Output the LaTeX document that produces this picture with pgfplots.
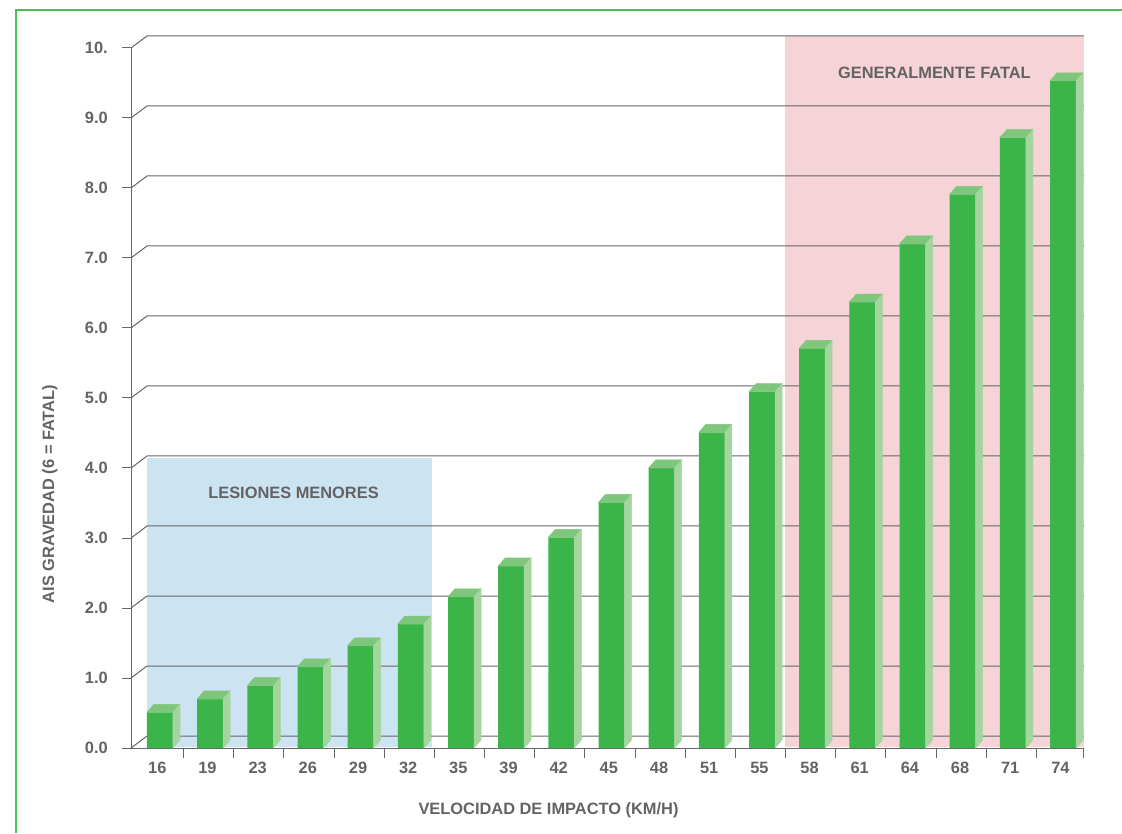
\documentclass[border=0pt]{standalone}
\usepackage{pgfplots}
\pgfplotsset{compat=1.18}
\usepackage{fontspec}
\setmainfont{Liberation Sans}

\definecolor{barfront}{HTML}{3BB44A}
\definecolor{bartop}{HTML}{7EC67B}
\definecolor{barside}{HTML}{A5D59E}
\definecolor{minorzone}{HTML}{CCE3F1}
\definecolor{fatalzone}{HTML}{F5D3D6}
\definecolor{gridgray}{HTML}{666666}
\definecolor{txtgray}{HTML}{636363}
\definecolor{framegreen}{HTML}{45C15A}

% an empty mark: the 3D faces are drawn by the scatter code
\pgfdeclareplotmark{empty}{}
\newcommand\lbl{\fontsize{12.3}{14}\selectfont\bfseries}

\begin{document}
\begin{tikzpicture}
\begin{scope}[x=0.75pt,y=0.75pt]
\useasboundingbox (0,0) rectangle (1122,833);
% outer frame
\draw[framegreen, line width=1.1pt] (1122,823) -- (16,823) -- (16,0);
\end{scope}

\begin{axis}[
  at={(98.25pt,63.75pt)}, anchor=south west,
  x=37.6275pt, y=52.5pt,
  xmin=-0.578, xmax=18.40, ymin=0, ymax=10,
  enlargelimits=false, clip=false,
  axis lines=left,
  axis line style={-, draw=gridgray, line width=0.75pt},
  tick align=outside,
  major tick length=6.75pt,
  tick style={draw=gridgray, line width=0.75pt},
  xtick style={draw=none},
  xtick={0,...,18},
  xticklabels={16,19,23,26,29,32,35,39,42,45,48,51,55,58,61,64,68,71,74},
  ytick={0,...,10},
  yticklabels={0.0,1.0,2.0,3.0,4.0,5.0,6.0,7.0,8.0,9.0,10.},
  tick label style={font=\lbl, text=txtgray},
  xticklabel style={anchor=north, inner sep=0pt, yshift=-3.4pt, xshift=-2pt},
  yticklabel style={anchor=east, inner sep=0pt, xshift=-10.5pt},
]
% highlighted zones on the back wall
\fill[minorzone] (axis cs:-0.259,0.01) rectangle (axis cs:5.422,4.143);
\fill[fatalzone] (axis cs:12.458,0.01) rectangle (axis cs:18.417,10.171);

% back-wall grid lines with their floor-to-wall bevel
\pgfplotsinvokeforeach{0,...,10}{
  \draw[gridgray, line width=0.75pt] (axis cs:-0.578,#1) -- ++(12pt,9pt)
    -- ([shift={(12pt,9pt)}]axis cs:18.098,#1);
}

% category separators under the x axis
\pgfplotsinvokeforeach{0.47,1.47,2.47,3.47,4.47,5.47,6.47,7.47,8.47,9.47,10.47,11.47,12.47,13.47,14.47,15.47,16.47,17.47,18.40}{
  \draw[gridgray, line width=0.75pt] (axis cs:#1,0) -- ++(0pt,-7.5pt);
}

\node[font=\lbl, text=txtgray] at (axis cs:2.661,3.643) {LESIONES MENORES};
\node[font=\lbl, text=txtgray] at (axis cs:15.437,9.643) {GENERALMENTE FATAL};

% front faces
\addplot[ybar, bar width=19.5pt, bar shift=0pt, fill=barfront, draw=none]
coordinates {
 (0,0.51) (1,0.70) (2,0.89) (3,1.16) (4,1.46) (5,1.77) (6,2.16) (7,2.60)
 (8,3.01) (9,3.51) (10,4.00) (11,4.51) (12,5.09) (13,5.71) (14,6.37)
 (15,7.20) (16,7.91) (17,8.72) (18,9.53)
};

% top and side faces of each bar
\addplot[scatter, only marks, mark=empty,
  visualization depends on={rawy \as \val},
  scatter/@pre marker code/.code={%
    \pgfkeys{/pgf/fpu=false}%
    \pgfmathsetmacro\hh{\val*52.5}%
    \pgfmathsetmacro\hb{6-\val*52.5}%
    \fill[bartop] (-9.75pt,0pt) -- (9.75pt,0pt) -- (15pt,6pt) -- (-4.5pt,6pt) -- cycle;
    \fill[barside] (9.75pt,0pt) -- (15pt,6pt) -- (15pt,\hb pt) -- (9.75pt,-\hh pt) -- cycle;
  },
  scatter/@post marker code/.code={}]
coordinates {
 (0,0.51) (1,0.70) (2,0.89) (3,1.16) (4,1.46) (5,1.77) (6,2.16) (7,2.60)
 (8,3.01) (9,3.51) (10,4.00) (11,4.51) (12,5.09) (13,5.71) (14,6.37)
 (15,7.20) (16,7.91) (17,8.72) (18,9.53)
};
\end{axis}

% axis titles
\begin{scope}[x=0.75pt,y=0.75pt]
\node[font=\lbl, text=txtgray, anchor=base] at (548.5,19) {VELOCIDAD DE IMPACTO (KM/H)};
\node[font=\lbl, text=txtgray, anchor=base, rotate=90] at (54,339) {AIS GRAVEDAD (6 = FATAL)};
\end{scope}
\end{tikzpicture}
\end{document}
